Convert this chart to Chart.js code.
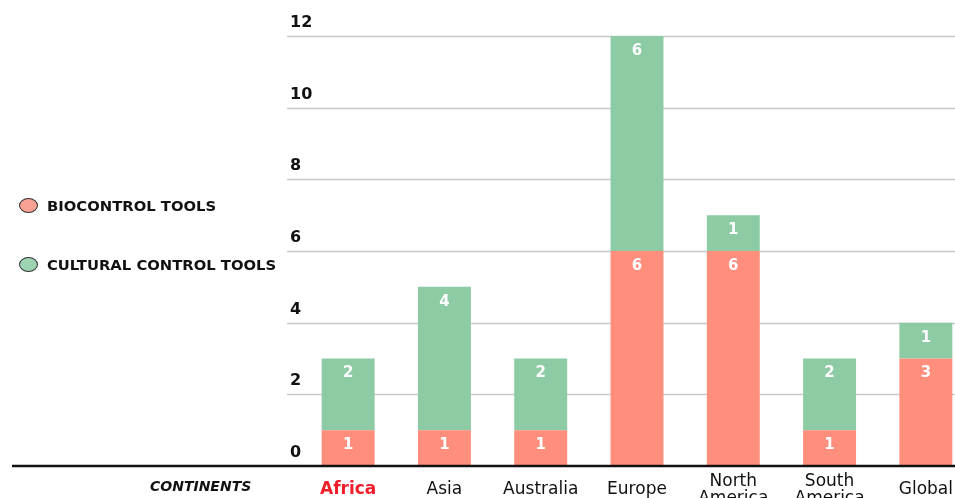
<!DOCTYPE html>
<html lang="en">
<head>
  <meta charset="UTF-8">
  <title>Biocontrol and cultural control tools by continent</title>
  <script src="https://cdn.jsdelivr.net/npm/chart.js"></script>
  <style>
    body, html {
      margin: 0;
      width: 955px;
      height: 498px;
      overflow: hidden;
      background: #fff;
      font-family: "DejaVu Sans", sans-serif;
    }
    #wrap {
      position: relative;
      width: 955px;
      height: 498px;
      overflow: hidden;
    }
    #chart {
      position: absolute;
      left: 0;
      top: 0;
    }
    .legend-item {
      position: absolute;
      left: 19px;
      display: flex;
      align-items: center;
      font-weight: bold;
      font-size: 14.8px;
      color: #111;
      white-space: nowrap;
    }
    .dot {
      width: 17px;
      height: 13px;
      border-radius: 50%;
      border: 1px solid #333;
      margin-right: 9px;
    }
    #axis-title {
      position: absolute;
      left: 150px;
      top: 478px;
      font-weight: bold;
      font-style: italic;
      font-size: 14px;
      color: #111;
    }
  </style>
</head>
<body>
  <div id="wrap">
    <canvas id="chart" width="980" height="520"></canvas>
    <div class="legend-item" style="top:197px"><span class="dot" style="background:#f9a194"></span>BIOCONTROL TOOLS</div>
    <div class="legend-item" style="top:256px"><span class="dot" style="background:#9dd3b2"></span>CULTURAL CONTROL TOOLS</div>
    <div id="axis-title">CONTINENTS</div>
  </div>

  <script>
    // data
    var continents = ['Africa', 'Asia', 'Australia', 'Europe', ['North', 'America'], ['South', 'America'], 'Global'];
    var biocontrol = [1, 1, 1, 6, 6, 1, 3];
    var cultural = [2, 4, 2, 6, 1, 2, 1];
    var yTicks = [0, 2, 4, 6, 8, 10, 12];

    var salmon = '#ff8e7c';
    var green = '#8dcba4';

    // gridlines, tick labels and value labels drawn from the scales
    var decorPlugin = {
      id: 'decor',
      beforeDatasetsDraw: function(chart) {
        var ctx = chart.ctx;
        var y = chart.scales.y;
        ctx.save();
        ctx.strokeStyle = '#c9c9c9';
        ctx.lineWidth = 1.5;
        yTicks.forEach(function(v) {
          if (v === 0) return;
          var py = Math.round(y.getPixelForValue(v)) + 0.5;
          ctx.beginPath();
          ctx.moveTo(287, py);
          ctx.lineTo(chart.chartArea.right, py);
          ctx.stroke();
        });
        ctx.restore();
      },
      afterDatasetsDraw: function(chart) {
        var ctx = chart.ctx;
        var y = chart.scales.y;
        ctx.save();
        // baseline
        ctx.strokeStyle = '#111';
        ctx.lineWidth = 2.5;
        var by = y.getPixelForValue(0);
        ctx.beginPath();
        ctx.moveTo(12, by);
        ctx.lineTo(chart.chartArea.right, by);
        ctx.stroke();

        // tick labels above their gridlines
        ctx.fillStyle = '#111';
        ctx.font = 'bold 16px "DejaVu Sans"';
        ctx.textAlign = 'left';
        ctx.textBaseline = 'middle';
        yTicks.forEach(function(v) {
          ctx.fillText(String(v), 290, y.getPixelForValue(v) - 13);
        });

        // values inside the bars
        ctx.fillStyle = '#fff';
        ctx.font = 'bold 15px "DejaVu Sans"';
        ctx.textAlign = 'center';
        chart.data.datasets.forEach(function(ds, i) {
          chart.getDatasetMeta(i).data.forEach(function(bar, j) {
            ctx.fillText(String(ds.data[j]), bar.x, bar.y + 15);
          });
        });
        ctx.restore();
      }
    };

    var ctx = document.getElementById('chart').getContext('2d');
    var chart = new Chart(ctx, {
      type: 'bar',
      data: {
        labels: continents,
        datasets: [{
          label: 'BIOCONTROL TOOLS',
          data: biocontrol,
          backgroundColor: salmon,
          borderWidth: 0
        }, {
          label: 'CULTURAL CONTROL TOOLS',
          data: cultural,
          backgroundColor: green,
          borderWidth: 0
        }]
      },
      options: {
        responsive: false,
        animation: false,
        categoryPercentage: 1,
        barPercentage: 0.55,
        layout: {
          padding: { left: 300, right: 6, top: 36, bottom: 0 }
        },
        scales: {
          x: {
            stacked: true,
            border: { display: false },
            grid: { display: false, drawTicks: false },
            afterFit: function(scale) { scale.height = 54; },
            ticks: {
              padding: 16,
              maxRotation: 0,
              autoSkip: false,
              crossAlign: 'center',
              color: function(c) { return c.index === 0 ? '#f01d2b' : '#111'; },
              font: function(c) {
                return { family: '"DejaVu Sans"', size: 17, weight: c.index === 0 ? 'bold' : 'normal', lineHeight: 0.95 };
              }
            }
          },
          y: {
            stacked: true,
            display: false,
            min: 0,
            max: 12
          }
        },
        plugins: {
          legend: { display: false },
          tooltip: { enabled: false }
        }
      },
      plugins: [decorPlugin]
    });
  </script>
</body>
</html>
